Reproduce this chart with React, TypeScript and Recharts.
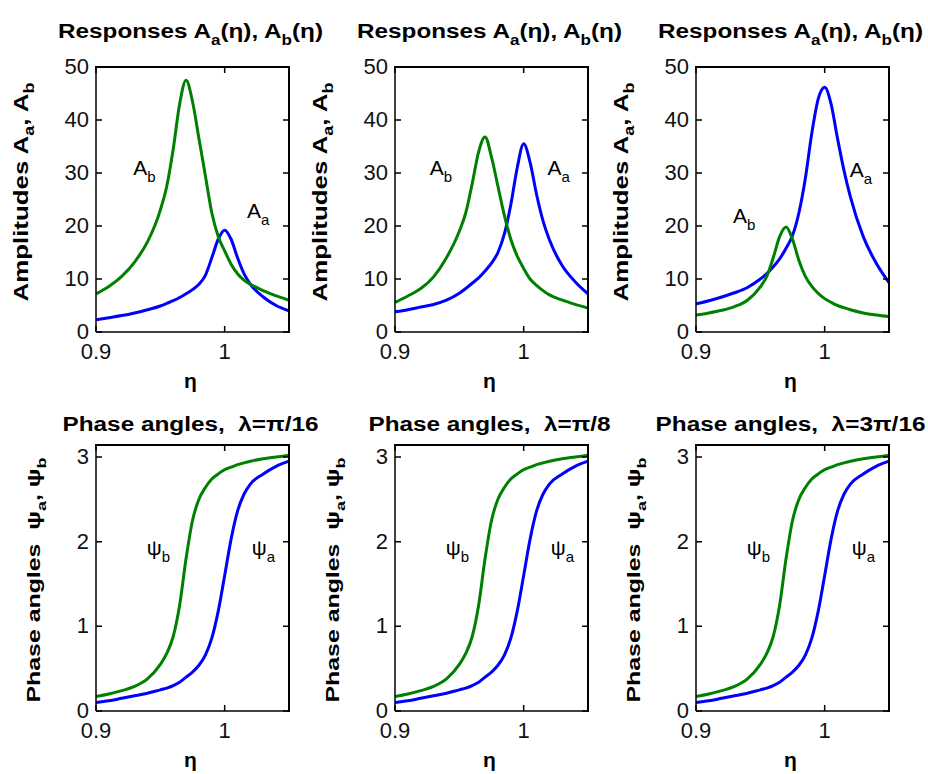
import React from "react";
import { LineChart, Line, XAxis, YAxis, ReferenceDot } from "recharts";

// frequency ratio eta, shared by every panel
const ETA = [
  0.9, 0.91, 0.92, 0.93, 0.94, 0.95, 0.955, 0.96, 0.965, 0.97, 0.975, 0.98,
  0.985, 0.99, 0.995, 1.0, 1.005, 1.01, 1.015, 1.02, 1.03, 1.04, 1.05,
];

// amplitudes, lambda = pi/16
const AMP_A_1 = [
  2.3, 2.7, 3.1, 3.6, 4.2, 4.9, 5.4, 5.9, 6.5, 7.2, 8, 9, 10.7, 14, 17.5, 19.2,
  17.5, 14, 11, 9, 6.6, 5, 4,
];
const AMP_B_1 = [
  7.2, 8.6, 10.5, 13.2, 17, 23, 27.5, 34.5, 43, 47.5, 43.5, 36.5, 29.5, 22.5,
  18, 15.3, 12.8, 11, 9.8, 9, 7.8, 6.8, 6,
];

// amplitudes, lambda = pi/8
const AMP_A_2 = [
  3.8, 4.2, 4.7, 5.2, 6, 7.3, 8.2, 9.2, 10.2, 11.5, 13, 15, 18.5, 24, 31, 35.5,
  32, 26, 21, 17.4, 12.5, 9.5, 7.2,
];
const AMP_B_2 = [
  5.6, 6.8, 8.2, 10.4, 14, 19, 22.5, 28, 34, 36.8, 33, 27.5, 22, 17.5, 14.3, 12,
  10, 8.8, 7.8, 7, 6, 5.2, 4.5,
];

// amplitudes, lambda = 3pi/16
const AMP_A_3 = [
  5.3, 5.9, 6.6, 7.4, 8.4, 10, 11, 12.3, 13.8, 15.8, 18.2, 22.5, 29, 37.5, 44,
  46.2, 43, 36.5, 30.5, 25.5, 18, 13, 9.3,
];
const AMP_B_3 = [
  3.2, 3.6, 4.1, 4.8, 6, 8.5, 10.5, 14, 18, 19.8, 17.5, 13.5, 10.5, 8.6, 7.3,
  6.3, 5.6, 5, 4.6, 4.2, 3.6, 3.2, 2.9,
];

// phase angles (the three lower panels look the same)
const PHASE_A = [
  0.1, 0.12, 0.15, 0.18, 0.21, 0.25, 0.27, 0.3, 0.34, 0.4, 0.46, 0.54, 0.66,
  0.86, 1.18, 1.6, 2.03, 2.36, 2.56, 2.68, 2.8, 2.89, 2.95,
];
const PHASE_B = [
  0.17, 0.2, 0.24, 0.29, 0.38, 0.55, 0.68, 0.88, 1.25, 1.8, 2.25, 2.5, 2.64,
  2.74, 2.8, 2.85, 2.88, 2.91, 2.93, 2.95, 2.98, 3.0, 3.02,
];

const ETA_RANGE: [number, number] = [0.9, 1.05];
const ETA_TICKS = [0.9, 1];
const AMP_TICKS = [0, 10, 20, 30, 40, 50];
const PHASE_TICKS = [0, 1, 2, 3];
const LAMBDAS = ["π/16", "π/8", "3π/16"];

const FONT = "'Liberation Sans', Arial, Helvetica, sans-serif";
const BLUE = "#0000ff";
const GREEN = "#008000";

const BOX_LEFT = [96, 395, 696];
const BOX_W = 193;
const TOP_ROW = { top: 67, h: 265 };
const BOTTOM_ROW = { top: 445, h: 266 };
const ROWS = [TOP_ROW, BOTTOM_ROW];

const M_TOP = 30;
const M_RIGHT = 15;
const Y_AXIS_W = 90;
const X_AXIS_H = 50;
const TICK_LEN = 6;
const FRAME_W = 1.5;

function buildRows(a: number[], b: number[]) {
  return ETA.map((eta, i) => ({ eta, a: a[i], b: b[i] }));
}

// x ticks: label below, tick marks pointing into the box at bottom and top
const BottomTick = (props: any) => {
  const { x, y, payload, boxH } = props;
  const top = y - boxH;
  return (
    <g>
      <path d={`M${x},${y}v${-TICK_LEN}M${x},${top}v${TICK_LEN}`} stroke="#000" strokeWidth={FRAME_W} fill="none" />
      <text x={x} y={y} dy={27} textAnchor="middle" fontFamily={FONT} fontSize={22} fill="#111">
        {String(payload.value)}
      </text>
    </g>
  );
};

// y ticks: label left, tick marks pointing into the box at left and right
const LeftTick = (props: any) => {
  const { x, y, payload, boxW } = props;
  const right = x + boxW;
  return (
    <g>
      <path d={`M${x},${y}h${TICK_LEN}M${right},${y}h${-TICK_LEN}`} stroke="#000" strokeWidth={FRAME_W} fill="none" />
      <text x={x - 7} y={y} dy={7} textAnchor="end" fontFamily={FONT} fontSize={22} fill="#111">
        {String(payload.value)}
      </text>
    </g>
  );
};

function CurveLabel({ cx, cy, base, sub }: { cx: number; cy: number; base: string; sub: string }) {
  return (
    <text x={cx} y={cy} fontFamily={FONT} fontSize={21} fill="#000">
      {base}
      <tspan dy={7} fontSize={15}>
        {sub}
      </tspan>
    </text>
  );
}

type Note = { eta: number; value: number; base: string; sub: string };

function Panel({
  left,
  row,
  data,
  yDomain,
  yTicks,
  notes,
}: {
  left: number;
  row: { top: number; h: number };
  data: { eta: number; a: number; b: number }[];
  yDomain: [number, number];
  yTicks: number[];
  notes: Note[];
}) {
  const width = Y_AXIS_W + BOX_W + M_RIGHT;
  const height = M_TOP + row.h + X_AXIS_H;
  return (
    <div style={{ position: "absolute", left: left - Y_AXIS_W, top: row.top - M_TOP }}>
      <LineChart width={width} height={height} data={data} margin={{ top: M_TOP, right: M_RIGHT, left: 0, bottom: 0 }}>
        <XAxis
          dataKey="eta"
          type="number"
          domain={ETA_RANGE}
          ticks={ETA_TICKS}
          interval={0}
          allowDataOverflow
          height={X_AXIS_H}
          tickSize={0}
          tickMargin={0}
          tickLine={false}
          axisLine={{ stroke: "#000", strokeWidth: FRAME_W }}
          tick={<BottomTick boxW={BOX_W} boxH={row.h} />}
        />
        <YAxis
          type="number"
          domain={yDomain}
          ticks={yTicks}
          interval={0}
          allowDataOverflow
          width={Y_AXIS_W}
          tickSize={0}
          tickMargin={0}
          tickLine={false}
          axisLine={{ stroke: "#000", strokeWidth: FRAME_W }}
          tick={<LeftTick boxW={BOX_W} boxH={row.h} />}
        />
        <Line dataKey="a" type="monotone" stroke={BLUE} strokeWidth={3} dot={false} isAnimationActive={false} />
        <Line dataKey="b" type="monotone" stroke={GREEN} strokeWidth={3} dot={false} isAnimationActive={false} />
        {notes.map((n, i) => (
          <ReferenceDot
            key={i}
            x={n.eta}
            y={n.value}
            r={0}
            shape={(p: any) => <CurveLabel cx={p.cx} cy={p.cy} base={n.base} sub={n.sub} />}
          />
        ))}
      </LineChart>
    </div>
  );
}

const AMP_NOTES: Note[][] = [
  [
    { eta: 0.929, value: 29.6, base: "A", sub: "b" },
    { eta: 1.0173, value: 21.5, base: "A", sub: "a" },
  ],
  [
    { eta: 0.927, value: 29.6, base: "A", sub: "b" },
    { eta: 1.0186, value: 29.6, base: "A", sub: "a" },
  ],
  [
    { eta: 0.9287, value: 20.6, base: "A", sub: "b" },
    { eta: 1.0194, value: 29.2, base: "A", sub: "a" },
  ],
];

const PHASE_NOTES: Note[] = [
  { eta: 0.9395, value: 1.84, base: "ψ", sub: "b" },
  { eta: 1.021, value: 1.84, base: "ψ", sub: "a" },
];

const AMP_DATA = [
  buildRows(AMP_A_1, AMP_B_1),
  buildRows(AMP_A_2, AMP_B_2),
  buildRows(AMP_A_3, AMP_B_3),
];
const PHASE_DATA = buildRows(PHASE_A, PHASE_B);

const BOTTOM_TITLE_LEN = [256, 242, 270];

// plain frame boxes laid over each plot area (top and right edges of the box)
function Frames() {
  return (
    <>
      {ROWS.map((r, j) =>
        BOX_LEFT.map((bl, i) => (
          <div
            key={`fr${j}${i}`}
            style={{
              position: "absolute",
              left: bl - 1,
              top: r.top - 1,
              width: BOX_W,
              height: r.h,
              borderTop: "2px solid #000",
              borderRight: "2px solid #000",
              pointerEvents: "none",
              boxSizing: "content-box",
            }}
          />
        ))
      )}
    </>
  );
}

function Overlay() {
  return (
    <svg width={928} height={774} style={{ position: "absolute", left: 0, top: 0, pointerEvents: "none" }}>
      {BOX_LEFT.map((bl, i) => {
        const cx = bl + BOX_W / 2 - 2;
        return (
          <g key={i} fontFamily={FONT} fill="#000" fontWeight="bold">
            <text x={cx} y={38} textAnchor="middle" fontSize={20} textLength={265} lengthAdjust="spacingAndGlyphs">
              Responses A<tspan dy={7} fontSize={14}>a</tspan>
              <tspan dy={-7}>(η), A</tspan>
              <tspan dy={7} fontSize={14}>b</tspan>
              <tspan dy={-7}>(η)</tspan>
            </text>
            <text
              transform={`translate(${bl - 68},192) rotate(-90)`}
              textAnchor="middle"
              fontSize={20}
              textLength={219}
              lengthAdjust="spacingAndGlyphs"
            >
              Amplitudes A<tspan dy={6} fontSize={14}>a</tspan>
              <tspan dy={-6}>, A</tspan>
              <tspan dy={6} fontSize={14}>b</tspan>
            </text>
            <text x={cx} y={388} textAnchor="middle" fontSize={21}>
              η
            </text>
            <text
              x={cx}
              y={431}
              textAnchor="middle"
              fontSize={20}
              textLength={BOTTOM_TITLE_LEN[i]}
              lengthAdjust="spacingAndGlyphs"
              style={{ whiteSpace: "pre" }}
            >
              {`Phase angles,  λ=${LAMBDAS[i]}`}
            </text>
            <text
              transform={`translate(${bl - 56},580) rotate(-90)`}
              textAnchor="middle"
              fontSize={18}
              textLength={245}
              lengthAdjust="spacingAndGlyphs"
              style={{ whiteSpace: "pre" }}
            >
              {"Phase angles  ψ"}
              <tspan dy={6} fontSize={13}>a</tspan>
              <tspan dy={-6}>, ψ</tspan>
              <tspan dy={6} fontSize={13}>b</tspan>
            </text>
            <text x={cx} y={767} textAnchor="middle" fontSize={21}>
              η
            </text>
          </g>
        );
      })}
    </svg>
  );
}

export default function App() {
  return (
    <div
      style={{
        position: "absolute",
        left: 0,
        top: 0,
        width: 928,
        height: 774,
        background: "#fff",
        overflow: "hidden",
      }}
    >
      {BOX_LEFT.map((bl, i) => (
        <Panel
          key={"amp" + i}
          left={bl}
          row={TOP_ROW}
          data={AMP_DATA[i]}
          yDomain={[0, 50]}
          yTicks={AMP_TICKS}
          notes={AMP_NOTES[i]}
        />
      ))}
      {BOX_LEFT.map((bl, i) => (
        <Panel
          key={"ph" + i}
          left={bl}
          row={BOTTOM_ROW}
          data={PHASE_DATA}
          yDomain={[0, Math.PI]}
          yTicks={PHASE_TICKS}
          notes={PHASE_NOTES}
        />
      ))}
      <Frames />
      <Overlay />
    </div>
  );
}
